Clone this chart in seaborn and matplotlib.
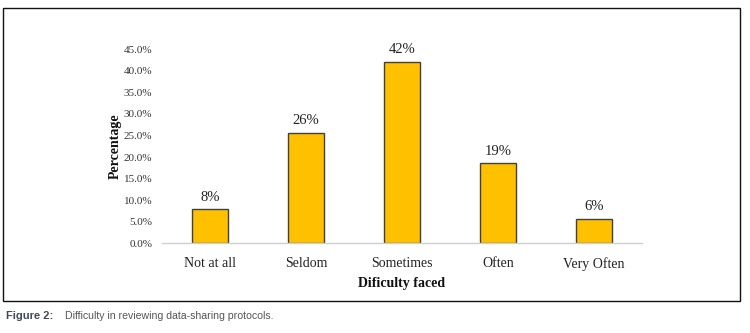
import matplotlib
matplotlib.use('Agg')
import matplotlib.pyplot as plt
import matplotlib.ticker as mticker
import seaborn as sns
import pandas as pd
from matplotlib.patches import Rectangle

# chart data
categories = ['Not at all', 'Seldom', 'Sometimes', 'Often', 'Very Often']
percent = [7.9, 25.6, 42.1, 18.6, 5.7]
bar_labels = ['8%', '26%', '42%', '19%', '6%']
yticks = [0, 5, 10, 15, 20, 25, 30, 35, 40, 45]

df = pd.DataFrame({'category': categories, 'percent': percent})

sns.set_theme(style='white')
plt.rcParams['font.family'] = ['Liberation Serif', 'DejaVu Serif']

fig = plt.figure(figsize=(7.5, 3.33), dpi=100)
ax = fig.add_axes([0.216, 0.2694, 0.64, 0.5826])

sns.barplot(data=df, x='category', y='percent', ax=ax, color='#FFC000',
            width=0.38, edgecolor='#404040', linewidth=1.0, saturation=1)
ax.bar_label(ax.containers[0], labels=bar_labels, padding=4, fontsize=10.5, color='#222222')

ax.set_ylim(0, 45)
ax.set_xlim(-0.5, 4.5)
ax.set_yticks(yticks)
ax.yaxis.set_major_formatter(mticker.FuncFormatter(lambda v, p: '{:.1f}%'.format(v)))
ax.tick_params(axis='y', labelsize=8, length=0, pad=7, colors='#333333')
ax.tick_params(axis='x', labelsize=10, length=0, pad=10, colors='#222222')

ax.set_xlabel('Dificulty faced', fontsize=10, fontweight='bold', labelpad=4, color='#111111')
ax.set_ylabel('Percentage', fontsize=10, fontweight='bold', labelpad=1, color='#111111')

sns.despine(ax=ax, left=True, top=True, right=True)
ax.spines['bottom'].set_color('#d0d0d0')
ax.spines['bottom'].set_linewidth(1.0)

# outer frame around the chart
fig.patches.append(Rectangle((3 / 750, 1 - 301 / 333), 737 / 750, 293 / 333,
                             transform=fig.transFigure, fill=False,
                             edgecolor='#111111', linewidth=1.0))

# figure caption
narrow = ['Liberation Sans Narrow', 'Liberation Sans', 'DejaVu Sans']
fig.text(6 / 750, 1 - 316 / 333, 'Figure 2:', family=narrow, fontsize=8,
         fontweight='bold', color='#3f4a5a', va='center')
fig.text(65 / 750, 1 - 316 / 333, 'Difficulty in reviewing data-sharing protocols.',
         family=narrow, fontsize=7.6, color='#555555', va='center')

fig.savefig('out.png', dpi=100)
